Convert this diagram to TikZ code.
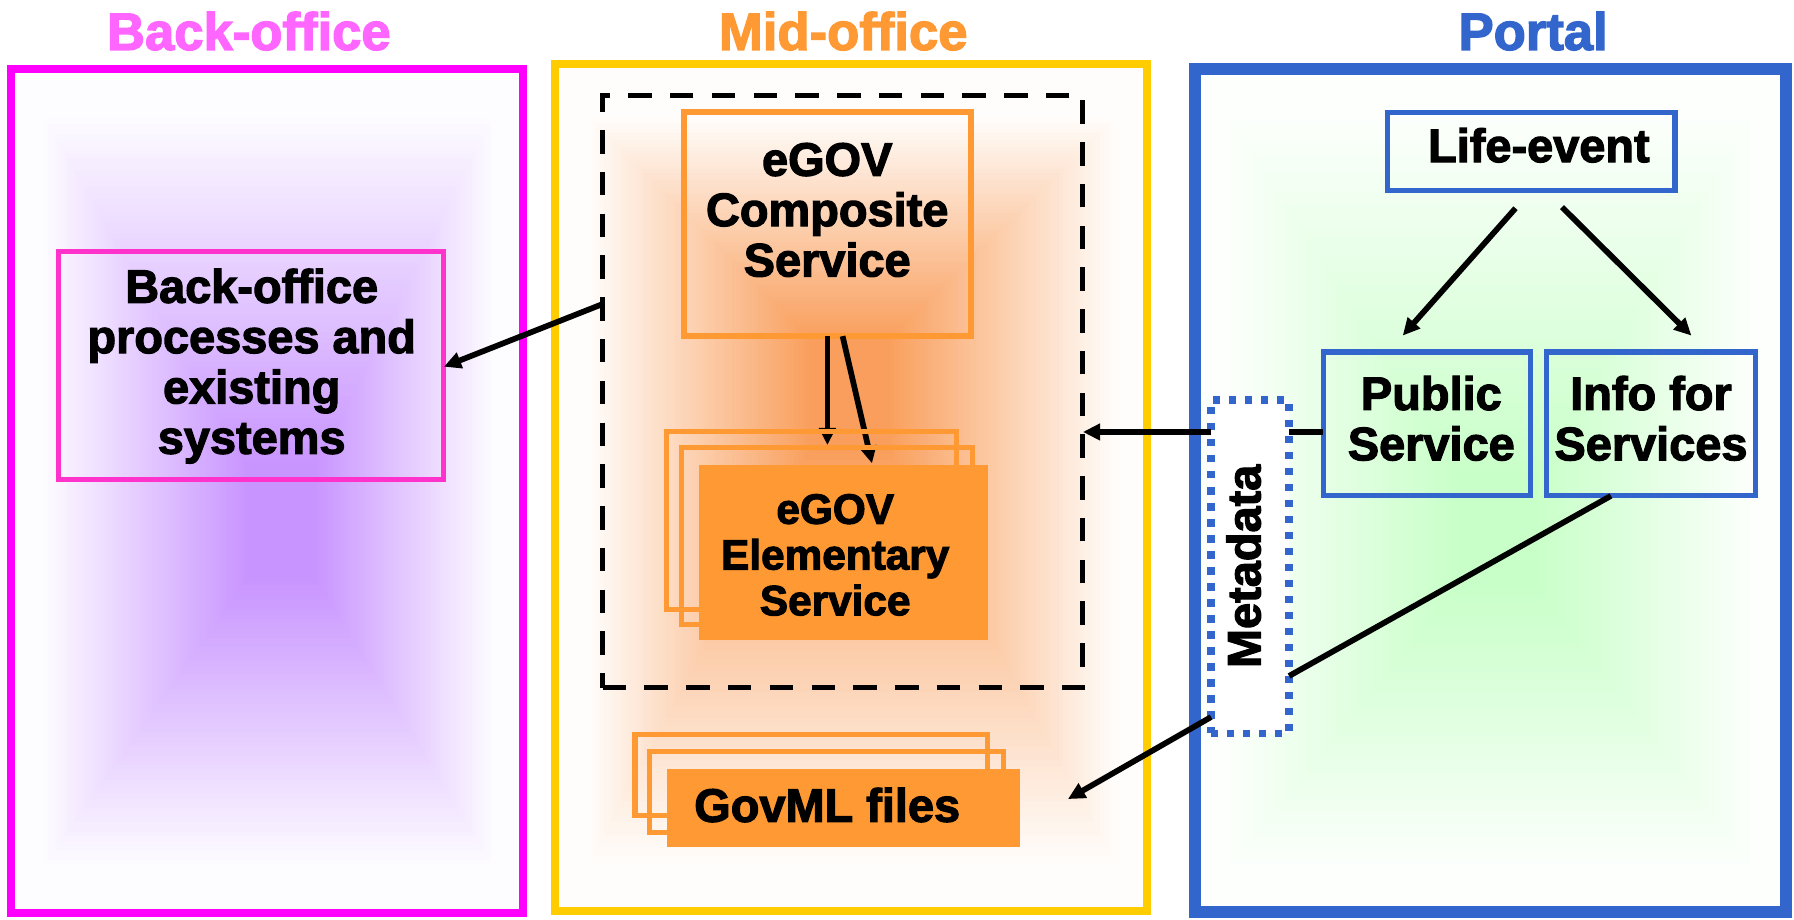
\documentclass[tikz,border=0pt]{standalone}
\usepackage{fontspec}
\setmainfont{Liberation Sans}[BoldFeatures={FakeBold=2.5}]
\usetikzlibrary{arrows.meta,calc}
\definecolor{magF}{RGB}{255,0,255}
\definecolor{magT}{RGB}{255,102,255}
\definecolor{magB}{RGB}{255,51,204}
\definecolor{goldF}{RGB}{255,204,0}
\definecolor{orgT}{RGB}{255,153,51}
\definecolor{bluP}{RGB}{51,102,204}
\definecolor{purpleC}{RGB}{200,148,255}
\definecolor{pedge}{RGB}{253,252,255}
\definecolor{orangeC}{RGB}{249,158,92}
\definecolor{oedge}{RGB}{255,253,251}
\definecolor{greenC}{RGB}{200,255,200}
\definecolor{gedge}{RGB}{252,255,252}
\newcommand\rectgrad[8]{%
  \foreach \i in {0,...,71}{%
    \pgfmathsetmacro\s{\i/72}%
    \pgfmathsetmacro\ax{#1+(#5-(#1))*\s}%
    \pgfmathsetmacro\ay{#2+(#6-(#2))*\s}%
    \pgfmathsetmacro\bx{#3+(#5-(#3))*\s}%
    \pgfmathsetmacro\by{#4+(#6-(#4))*\s}%
    \pgfmathtruncatemacro\pc{min(100,118*\s)}%
    \fill[#7!\pc!#8] (\ax,\ay) rectangle (\bx,\by);%
  }%
}
\begin{document}
\begin{tikzpicture}[x=1pt,y=-1pt,
  panel/.style={draw, inner sep=0pt, outer sep=0pt},
  bx/.style={draw, inner sep=0pt, outer sep=0pt},
  txt/.style={font=\bfseries\fontsize{41}{44}\selectfont, align=center, inner sep=0pt},
  ttl/.style={font=\bfseries\fontsize{46}{50}\selectfont, anchor=base, inner sep=0pt},
  arr/.style={line width=5pt, -{Triangle[length=15pt,width=14pt]}},
  ln/.style={line width=5pt}]

\path[use as bounding box, fill=white] (0,0) rectangle (1568,804);

% panels
\node[panel, draw=magF, fill=pedge, line width=6.7pt, minimum width=447.2pt, minimum height=737.6pt] (bo) at (233.4,429.2) {};
\node[panel, draw=goldF, fill=oedge, line width=7pt, minimum width=517.5pt, minimum height=740pt] (mo) at (743.75,426) {};
\node[panel, draw=bluP, fill=gedge, line width=10.3pt, minimum width=516.5pt, minimum height=736.7pt] (po) at (1302.75,428.65) {};

\rectgrad{36}{98}{433}{760}{248}{462}{purpleC}{pedge}
\rectgrad{512}{100}{978}{760}{742}{330}{orangeC}{oedge}
\rectgrad{1072}{100}{1533}{760}{1310}{470}{greenC}{gedge}

% titles
\node[ttl, text=magT] (t1) at (217.5,43.6) {Back-office};
\node[ttl, text=orgT] (t2) at (737,43.6) {Mid-office};
\node[ttl, text=bluP] (t3) at (1340,43.6) {Portal};

% mid-office
\node[bx, dash pattern=on 20.5pt off 16pt, line width=4.4pt, minimum width=419.7pt, minimum height=517.4pt] (dash) at (736.65,342.3) {};
\node[bx, draw=orgT, line width=5pt, minimum width=251.1pt, minimum height=195.9pt] (comp) at (723.15,195.85) {};
\node[txt] (ctxt) at (723,183.5) {eGOV\\Composite\\Service};

\draw[arr] (comp.south) -- ([yshift=-95.2pt]comp.south);
\draw[arr] ([xshift=13.3pt]comp.south) -- ([xshift=39pt,yshift=-111.2pt]comp.south);

\node[bx, draw=orgT, line width=4.4pt, minimum width=253pt, minimum height=155.4pt] (eb1) at (709.1,454.6) {};
\node[bx, draw=orgT, line width=4.4pt, minimum width=254.7pt, minimum height=155.3pt] (eb2) at (723,468.45) {};
\node[bx, draw=none, fill=orgT, minimum width=252.2pt, minimum height=152.8pt] (ef) at (737.1,482.6) {};
\node[txt, font=\bfseries\fontsize{37}{40}\selectfont] (etxt) at (730,485) {eGOV\\Elementary\\Service};

\node[bx, draw=orgT, line width=4.4pt, minimum width=308.2pt, minimum height=70.8pt] (gb1) at (709.1,677.4) {};
\node[bx, draw=orgT, line width=4.4pt, minimum width=309.4pt, minimum height=70.8pt] (gb2) at (722.7,691.8) {};
\node[bx, draw=none, fill=orgT, minimum width=307.9pt, minimum height=68.2pt] (gf) at (737.25,705.9) {};
\node[txt] (gtxt) at (723,703.6) {GovML files};

% back-office
\node[bx, draw=magB, line width=4.3pt, minimum width=337pt, minimum height=199pt] (bob) at (219.5,319.5) {};
\node[txt] (btxt) at (220,320) {Back-office\\processes and\\existing\\systems};

% portal
\node[bx, draw=bluP, line width=4.5pt, minimum width=251.3pt, minimum height=68.3pt] (life) at (1338.35,132.55) {};
\node[txt] (ltxt) at (1345,127) {Life-event};
\node[bx, draw=bluP, line width=4.5pt, minimum width=181.4pt, minimum height=125.7pt] (pub) at (1247.3,370.55) {};
\node[txt] (ptxt) at (1251,365.6) {Public\\Service};
\node[bx, draw=bluP, line width=4.5pt, minimum width=183pt, minimum height=125.7pt] (info) at (1443.1,370.55) {};
\node[txt] (itxt) at (1443,365.6) {Info for\\Services};
\node[bx, draw=bluP, fill=white, line width=6.4pt, dash pattern=on 6.4pt off 7.6pt, minimum width=68.2pt, minimum height=291.4pt] (meta) at (1092.6,495.3) {};
\node[txt, rotate=90] (mtxt) at (1087,495) {Metadata};

% connectors
\draw[arr] ([yshift=76.6pt]dash.west) -- ([yshift=-1pt]bob.east);
\draw[arr] ([xshift=-13.75pt,yshift=-15.3pt]life.south) -- ([xshift=-21.3pt,yshift=14.4pt]pub.north);
\draw[arr] ([xshift=26.85pt,yshift=-14.3pt]life.south) -- ([xshift=35.2pt,yshift=14.4pt]info.north);
\coordinate (m1) at ([yshift=-7pt]pub.west);
\draw[ln] (m1) -- (m1 -| meta.east);
\draw[arr] (m1 -| meta.west) -- (m1 -| dash.east);
\draw[ln] ([xshift=-35.1pt]info.south) -- ([yshift=-95.5pt]meta.east);
\draw[arr] ([yshift=-131.4pt]meta.west) -- ([xshift=42.2pt,yshift=7.5pt]gf.east);
\end{tikzpicture}
\end{document}
